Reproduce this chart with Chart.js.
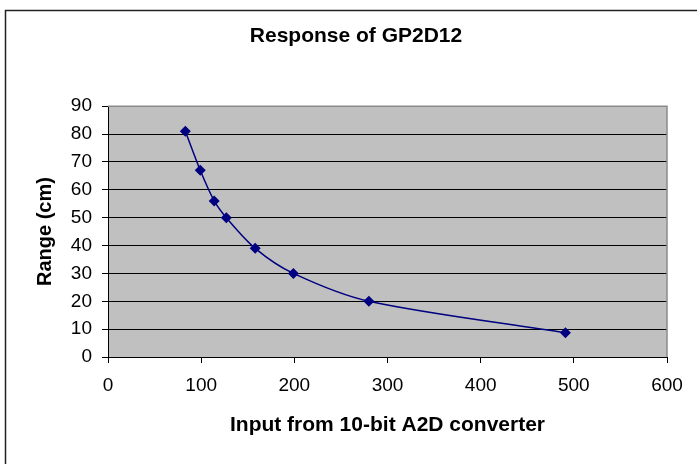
<!DOCTYPE html>
<html>
<head>
<meta charset="utf-8">
<title>Response of GP2D12</title>
<script src="https://cdn.jsdelivr.net/npm/chart.js@4.4.1/dist/chart.umd.min.js"></script>
<style>
    html, body { margin: 0; padding: 0; background: #fff; }
    #wrap { width: 697px; height: 464px; }
</style>
</head>
<body>
<div id="wrap"><canvas id="sensorChart" width="697" height="464"></canvas></div>
<script>
// readings
const adcInput = [83, 99, 114, 127, 158, 199, 280, 491];
const rangeCm = [81, 67, 56, 50, 39, 30, 20, 8.7];
const xTicks = [0, 100, 200, 300, 400, 500, 600];
const yTicks = [0, 10, 20, 30, 40, 50, 60, 70, 80, 90];

const fontFamily = '"Liberation Sans", Arial, sans-serif';

// grey plot area, frame round the whole chart
const chartDecor = {
    id: 'chartDecor',
    beforeDraw(chart) {
        const ctx = chart.ctx;
        const a = chart.chartArea;
        ctx.save();
        ctx.fillStyle = '#ffffff';
        ctx.fillRect(0, 0, chart.width, chart.height);
        ctx.fillStyle = '#c0c0c0';
        ctx.fillRect(a.left, a.top, a.right - a.left, a.bottom - a.top);
        ctx.strokeStyle = '#222';
        ctx.lineWidth = 1.5;
        ctx.strokeRect(5.5, 10.5, chart.width + 20, chart.height + 20);
        ctx.restore();
    },
    beforeDatasetsDraw(chart) {
        const ctx = chart.ctx;
        const a = chart.chartArea;
        ctx.save();
        ctx.strokeStyle = '#8a8a8a';
        ctx.lineWidth = 1.5;
        ctx.beginPath();
        ctx.moveTo(a.left, a.top);
        ctx.lineTo(a.right, a.top);
        ctx.lineTo(a.right, a.bottom);
        ctx.stroke();
        ctx.restore();
    }
};

document.addEventListener('DOMContentLoaded', function () {
    const ctx = document.getElementById('sensorChart').getContext('2d');
    new Chart(ctx, {
        type: 'scatter',
        data: {
            datasets: [{
                label: 'GP2D12',
                data: adcInput.map((x, i) => ({ x: x, y: rangeCm[i] })),
                showLine: true,
                tension: 0.3,
                borderColor: '#000080',
                borderWidth: 1.5,
                backgroundColor: '#000080',
                pointStyle: 'rectRot',
                pointRadius: 5.5,
                pointHoverRadius: 5.5,
                pointBorderWidth: 0
            }]
        },
        options: {
            responsive: false,
            animation: false,
            // left padding pushes the chart title centre to the right, like the original
            layout: { padding: { top: 0, left: 45, right: 30, bottom: 0 } },
            plugins: {
                legend: { display: false },
                tooltip: { enabled: false },
                title: {
                    display: true,
                    text: 'Response of GP2D12',
                    color: '#000',
                    font: { family: fontFamily, size: 21, weight: 'bold' },
                    padding: { top: 24, bottom: 57 }
                }
            },
            scales: {
                x: {
                    type: 'linear',
                    min: 0,
                    max: 600,
                    afterFit: function (scale) { scale.height = 107; },
                    afterBuildTicks: function (scale) { scale.ticks = xTicks.map(v => ({ value: v })); },
                    ticks: {
                        color: '#000',
                        font: { family: fontFamily, size: 19 },
                        padding: 11,
                        maxRotation: 0
                    },
                    grid: {
                        drawOnChartArea: false,
                        drawTicks: true,
                        tickLength: 6,
                        color: '#000'
                    },
                    border: { display: true, color: '#000', width: 1 },
                    title: {
                        display: true,
                        text: 'Input from 10-bit A2D converter',
                        color: '#000',
                        font: { family: fontFamily, size: 21, weight: 'bold' },
                        padding: { top: 0, bottom: 26 }
                    }
                },
                y: {
                    type: 'linear',
                    min: 0,
                    max: 90,
                    afterFit: function (scale) { scale.width = 63; },
                    afterBuildTicks: function (scale) { scale.ticks = yTicks.map(v => ({ value: v })); },
                    ticks: {
                        color: '#000',
                        font: { family: fontFamily, size: 19 },
                        padding: 10
                    },
                    grid: {
                        color: '#000',
                        lineWidth: 1,
                        drawTicks: true,
                        tickLength: 6
                    },
                    border: { display: true, color: '#000', width: 1 },
                    title: {
                        display: true,
                        text: 'Range (cm)',
                        color: '#000',
                        font: { family: fontFamily, size: 20, weight: 'bold' },
                        padding: { top: -12, bottom: 0 }
                    }
                }
            }
        },
        plugins: [chartDecor]
    });
});
</script>
</body>
</html>
